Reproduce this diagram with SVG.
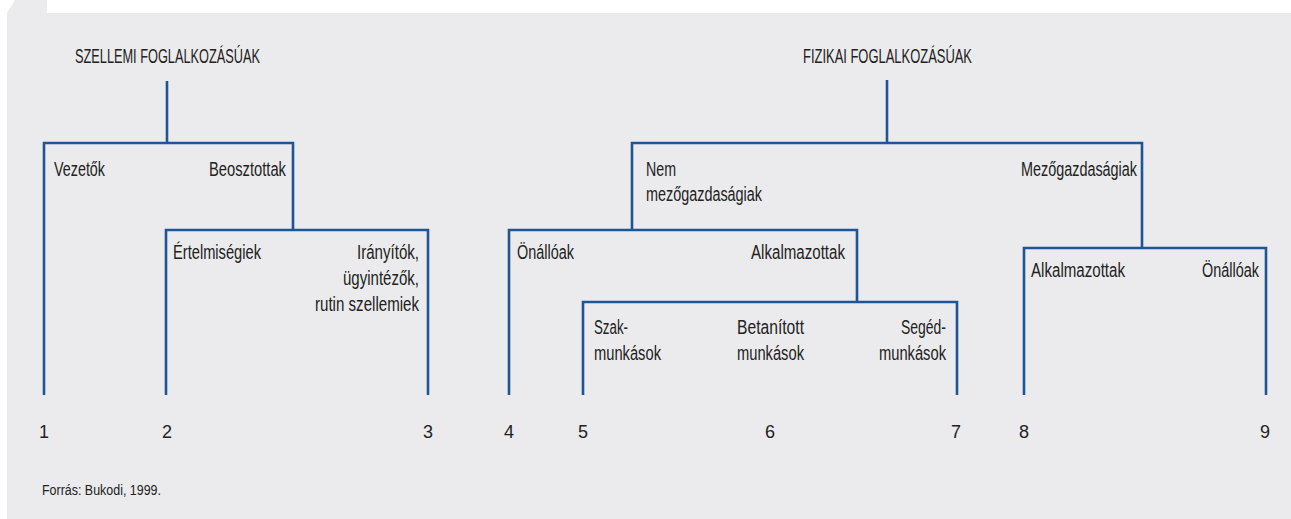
<svg xmlns="http://www.w3.org/2000/svg" width="1291" height="519" viewBox="0 0 1291 519">
<style>
.t{font-family:"Liberation Sans",Arial,sans-serif;font-size:20px;fill:#222222}
.n{font-family:"Liberation Sans",Arial,sans-serif;font-size:18px;fill:#222222;text-anchor:middle}
.f{font-family:"Liberation Sans",Arial,sans-serif;font-size:14px;fill:#222222}
.c{fill:none;stroke:#1D5596;stroke-width:2.6;stroke-linejoin:miter;stroke-linecap:butt}
</style>
<rect width="1291" height="519" fill="#ffffff"/>
<path d="M15,0 H47 V13 H1291 V519 H7 V13 Z" fill="#EBEBED"/>
<g id="connectors">
<path class="c" d="M167,81 V143"/>
<path class="c" d="M44,395 V143 H293 V230"/>
<path class="c" d="M166,395 V230 H428 V395"/>
<path class="c" d="M887,80 V143"/>
<path class="c" d="M632,230 V143 H1142 V248"/>
<path class="c" d="M509,395 V230 H857 V302"/>
<path class="c" d="M583,395 V302 H957 V395"/>
<path class="c" d="M1024,395 V248 H1266 V395"/>
</g>
<g id="szellemi"><text class="t" x="75" y="63" textLength="185" lengthAdjust="spacingAndGlyphs">SZELLEMI FOGLALKOZÁSÚAK</text></g>
<g id="fizikai"><text class="t" x="803" y="63" textLength="169" lengthAdjust="spacingAndGlyphs">FIZIKAI FOGLALKOZÁSÚAK</text></g>
<g id="vezetok"><text class="t" x="54" y="176" textLength="51" lengthAdjust="spacingAndGlyphs">Vezetők</text></g>
<g id="beosztottak"><text class="t" x="209" y="176" textLength="77" lengthAdjust="spacingAndGlyphs">Beosztottak</text></g>
<g id="ertelmisegiek"><text class="t" x="173" y="259" textLength="88" lengthAdjust="spacingAndGlyphs">Értelmiségiek</text></g>
<g id="iranyitok">
<text class="t" x="357" y="259" textLength="62" lengthAdjust="spacingAndGlyphs">Irányítók,</text>
<text class="t" x="343" y="285" textLength="76" lengthAdjust="spacingAndGlyphs">ügyintézők,</text>
<text class="t" x="315" y="311" textLength="104" lengthAdjust="spacingAndGlyphs">rutin szellemiek</text>
</g>
<g id="nem-mezogazdasagiak">
<text class="t" x="646" y="176" textLength="30" lengthAdjust="spacingAndGlyphs">Nem</text>
<text class="t" x="646" y="201" textLength="116" lengthAdjust="spacingAndGlyphs">mezőgazdaságiak</text>
</g>
<g id="mezogazdasagiak"><text class="t" x="1021" y="176" textLength="116" lengthAdjust="spacingAndGlyphs">Mezőgazdaságiak</text></g>
<g id="onalloak1"><text class="t" x="517" y="259" textLength="57" lengthAdjust="spacingAndGlyphs">Önállóak</text></g>
<g id="alkalmazottak1"><text class="t" x="751" y="259" textLength="94" lengthAdjust="spacingAndGlyphs">Alkalmazottak</text></g>
<g id="szakmunkasok">
<text class="t" x="594" y="334" textLength="34" lengthAdjust="spacingAndGlyphs">Szak-</text>
<text class="t" x="594" y="360" textLength="67" lengthAdjust="spacingAndGlyphs">munkások</text>
</g>
<g id="betanitott">
<text class="t" x="737" y="334" textLength="67" lengthAdjust="spacingAndGlyphs">Betanított</text>
<text class="t" x="737" y="360" textLength="67" lengthAdjust="spacingAndGlyphs">munkások</text>
</g>
<g id="segedmunkasok">
<text class="t" x="901" y="334" textLength="45" lengthAdjust="spacingAndGlyphs">Segéd-</text>
<text class="t" x="879" y="360" textLength="67" lengthAdjust="spacingAndGlyphs">munkások</text>
</g>
<g id="alkalmazottak2"><text class="t" x="1031" y="277" textLength="94" lengthAdjust="spacingAndGlyphs">Alkalmazottak</text></g>
<g id="onalloak2"><text class="t" x="1202" y="277" textLength="57" lengthAdjust="spacingAndGlyphs">Önállóak</text></g>
<g id="numbers">
<text class="n" x="44" y="438">1</text>
<text class="n" x="167" y="438">2</text>
<text class="n" x="428" y="438">3</text>
<text class="n" x="509" y="438">4</text>
<text class="n" x="583" y="438">5</text>
<text class="n" x="770" y="438">6</text>
<text class="n" x="956" y="438">7</text>
<text class="n" x="1024" y="438">8</text>
<text class="n" x="1265" y="438">9</text>
</g>
<g id="source"><text class="f" x="42" y="495" textLength="119" lengthAdjust="spacingAndGlyphs">Forrás: Bukodi, 1999.</text></g>
</svg>
